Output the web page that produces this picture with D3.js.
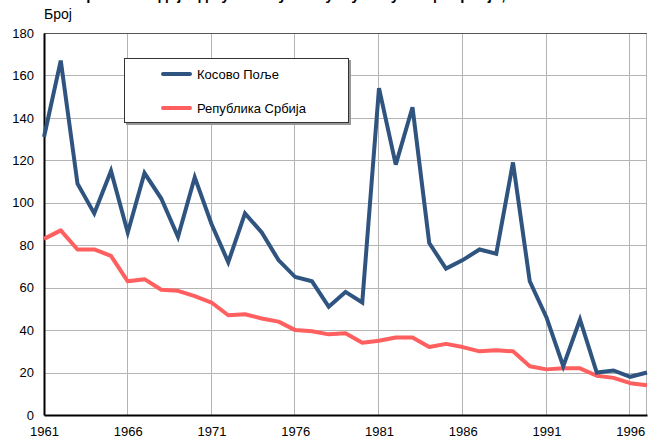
<!DOCTYPE html>
<html>
<head>
<meta charset="utf-8">
<script src="https://cdn.jsdelivr.net/npm/d3@7"></script>
<style>
  body { margin: 0; background: #fff; }
  text { font-family: "Liberation Sans", Arial, sans-serif; }
</style>
</head>
<body>
<div id="viz"></div>
<script>
// years on the x axis
var years = d3.range(1961, 1998);
var xTicks = [1961, 1966, 1971, 1976, 1981, 1986, 1991, 1996];
var yTicks = [0, 20, 40, 60, 80, 100, 120, 140, 160, 180];
var seriesNames = ["Косово Поље", "Република Србија"];

// Kosovo Polje, per year 1961-1997
var kosovoPolje = [131, 167, 109, 95, 115, 86, 114, 102, 84, 112,
                   90, 72, 95, 86, 73, 65, 63, 51, 58, 53,
                   154, 118, 145, 81, 69, 73, 78, 76, 119, 63,
                   46, 23, 45, 20, 21, 18, 20];
// Republic of Serbia
var srbija = [83, 87, 78, 78, 75, 63, 64, 59, 58.5, 56,
              53, 47, 47.5, 45.5, 44, 40, 39.5, 38, 38.5, 34,
              35, 36.5, 36.5, 32, 33.5, 32, 30, 30.5, 30, 23,
              21.5, 22, 22, 18.5, 17.5, 15, 14];

var colors = ["#2f5480", "#ff5f5f"];

var width = 648, height = 441;
var margin = {top: 33, right: 1, bottom: 26, left: 44};

var x = d3.scaleLinear()
  .domain([1961, 1997])
  .range([margin.left, width - margin.right]);
var y = d3.scaleLinear()
  .domain([0, 180])
  .range([height - margin.bottom, margin.top]);

var svg = d3.select("#viz")
  .append("svg")
  .attr("width", width)
  .attr("height", height);

// title, mostly cut off at the top
svg.append("text")
  .attr("x", 18)
  .attr("y", 0)
  .attr("font-size", 15)
  .attr("font-weight", "bold")
  .attr("fill", "#000")
  .text("Стопа смртности одојчади у Косову Пољу и у Републици Србији, 1961-1997");

svg.append("text")
  .attr("x", 44)
  .attr("y", 19)
  .attr("font-size", 14)
  .attr("fill", "#000")
  .text("Број");

// grid
svg.append("g")
  .attr("stroke", "#b4b4b4")
  .attr("stroke-width", 1)
  .selectAll("line.h")
  .data(yTicks.slice(1))
  .join("line")
  .attr("x1", margin.left)
  .attr("x2", width - margin.right)
  .attr("y1", d => Math.round(y(d)) + 0.5)
  .attr("y2", d => Math.round(y(d)) + 0.5);

svg.append("g")
  .attr("stroke", "#b4b4b4")
  .attr("stroke-width", 1)
  .selectAll("line")
  .data(xTicks.slice(1).concat([1997]))
  .join("line")
  .attr("x1", d => Math.round(x(d)) - 0.5)
  .attr("x2", d => Math.round(x(d)) - 0.5)
  .attr("y1", margin.top)
  .attr("y2", height - margin.bottom);

// top border
svg.append("line")
  .attr("x1", margin.left).attr("x2", width - margin.right)
  .attr("y1", Math.round(y(180)) + 0.5).attr("y2", Math.round(y(180)) + 0.5)
  .attr("stroke", "#555");

// axes
var yAxis = d3.axisLeft(y).tickValues(yTicks).tickSize(0).tickPadding(10);
var gy = svg.append("g")
  .attr("transform", "translate(" + margin.left + ",0)")
  .call(yAxis);
gy.select(".domain").attr("stroke", "#000").attr("stroke-width", 2);
gy.selectAll("text").attr("font-size", 13).attr("fill", "#000")
  .attr("font-family", "Liberation Sans, Arial, sans-serif");

var xAxis = d3.axisBottom(x).tickValues(xTicks).tickFormat(d3.format("d")).tickSize(0).tickPadding(12);
var gx = svg.append("g")
  .attr("transform", "translate(0," + y(0) + ")")
  .call(xAxis);
gx.select(".domain").attr("stroke", "#000").attr("stroke-width", 2);
gx.selectAll("text").attr("font-size", 13).attr("fill", "#000")
  .attr("font-family", "Liberation Sans, Arial, sans-serif");

// lines
var line = d3.line()
  .x((d, i) => x(years[i]))
  .y(d => y(d));

svg.append("path")
  .datum(srbija)
  .attr("fill", "none")
  .attr("stroke", colors[1])
  .attr("stroke-width", 4)
  .attr("stroke-linejoin", "round")
  .attr("d", line);

svg.append("path")
  .datum(kosovoPolje)
  .attr("fill", "none")
  .attr("stroke", colors[0])
  .attr("stroke-width", 4)
  .attr("stroke-linejoin", "miter")
  .attr("d", line);

// legend
var lg = svg.append("g").attr("transform", "translate(124,58)");
lg.append("rect")
  .attr("x", 2).attr("y", 2)
  .attr("width", 225).attr("height", 65)
  .attr("fill", "#999");
lg.append("rect")
  .attr("x", 0.5).attr("y", 0.5)
  .attr("width", 224).attr("height", 64)
  .attr("fill", "#fff")
  .attr("stroke", "#333");
seriesNames.forEach(function(name, i) {
  var yy = 16 + i * 34;
  lg.append("line")
    .attr("x1", 39).attr("x2", 66)
    .attr("y1", yy).attr("y2", yy)
    .attr("stroke", colors[i])
    .attr("stroke-width", 4)
    .attr("stroke-linecap", "round");
  lg.append("text")
    .attr("x", 73).attr("y", yy + 5)
    .attr("font-size", 13)
    .attr("fill", "#000")
    .text(name);
});
</script>
</body>
</html>
